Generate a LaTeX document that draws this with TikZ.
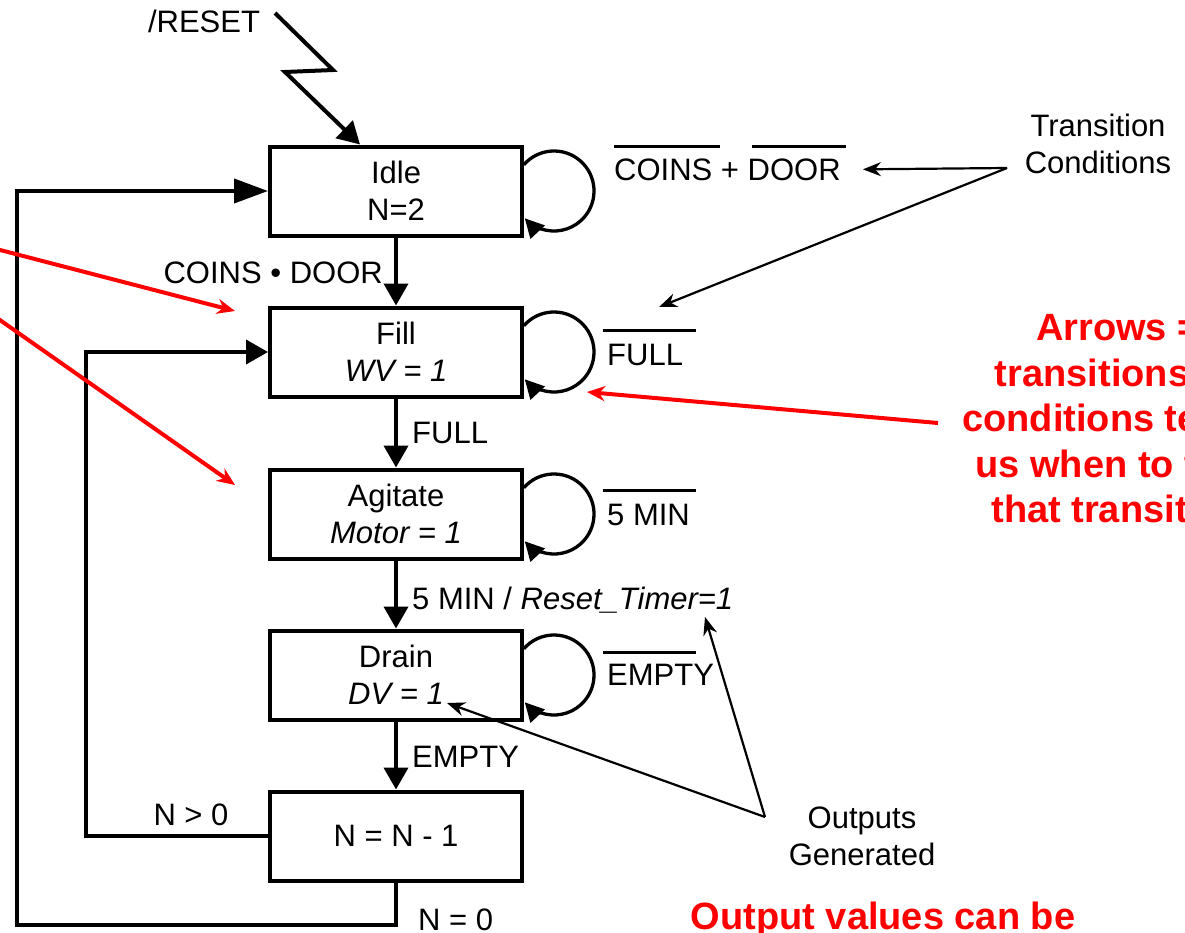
\documentclass[tikz,border=0pt]{standalone}
\usepackage{fontspec}
\setmainfont{Liberation Sans}
\usetikzlibrary{arrows.meta,calc}

\begin{document}
\begin{tikzpicture}[x=1pt,y=-1pt,
  every node/.style={font=\fontsize{31}{37}\selectfont},
  state/.style={draw,line width=4pt,minimum width=252pt,minimum height=89pt,align=center,inner sep=0pt},
  flow/.style={line width=4pt,-{Triangle[length=22pt,width=24pt]}},
  selfloop/.style={line width=3.3pt,-{Triangle[length=19pt,width=19pt]}},
  lbl/.style={inner sep=0pt},
  bar/.style={line width=3pt},
  note/.style={line width=2.2pt,-{Stealth[length=18pt,width=14pt]}},
  rednote/.style={red,line width=4pt,-{Stealth[length=18pt,width=15pt]}},
  redtext/.style={red,inner sep=0pt,align=center,font=\bfseries\fontsize{38}{45.5}\selectfont}]
  \useasboundingbox (0,0) rectangle (1185,932);
  \clip (0,0) rectangle (1185,932);

  % states
  \node[state] (idle) at (396,191) {Idle\\N=2};
  \node[state] (fill) at (396,352) {Fill\\\textit{WV = 1}};
  \node[state] (agit) at (396,514) {Agitate\\\textit{Motor = 1}};
  \node[state] (drain) at (396,675) {Drain\\\textit{DV = 1}};
  \node[state] (count) at (396,836) {N = N - 1};

  % transitions
  \foreach \a/\b in {idle/fill,fill/agit,agit/drain,drain/count}
    \draw[flow] (\a) -- (\b);
  \foreach \s in {idle,fill,agit,drain}
    \draw[selfloop] ($(\s.east)+(30,0)$) ++(-139:40) arc[start angle=-139,end angle=137,radius=40];
  \draw[line width=4pt,-{Triangle[length=34pt,width=24pt]}] (count.south) |- (17,925) |- (idle.west);
  \draw[flow] (count.west) -| (86,352) -- (fill.west);

  % reset
  \node[lbl,anchor=base] (reset) at (204,32) {/RESET};
  \coordinate (rst) at (275,13);
  \draw[flow] (rst) -- (333,70) -- (285,72) -- ($(idle.north)+(-36,0)$);

  % conditions on the arrows
  \node[lbl,anchor=base east] (cdand) at (383,283) {COINS • DOOR};
  \node[lbl,anchor=base west] (full) at (412,443) {FULL};
  \node[lbl,anchor=base west] (min5) at (412,609) {5 MIN / \textit{Reset\_Timer=1}};
  \node[lbl,anchor=base west] (empty) at (412,767) {EMPTY};
  \node[lbl,anchor=base] (ngt) at (191,825) {N > 0};
  \node[lbl,anchor=base west] (neq) at (418,930) {N = 0};

  % conditions on the self loops
  \node[lbl,anchor=base west] (idlec) at (614,180) {COINS + DOOR};
  \node[lbl,anchor=base west] (fillc) at (607,365) {FULL};
  \node[lbl,anchor=base west] (agitc) at (607,525) {5 MIN};
  \node[lbl,anchor=base west] (drainc) at (607,685) {EMPTY};
  \draw[bar] (614,146) -- (720,146) (752,146) -- (846,146);
  \foreach \y in {330,490,652}
    \draw[bar] (603,\y) -- (696,\y);

  % notes
  \node[lbl,align=center,anchor=base] (trans) at (1098,173) {Transition\\Conditions};
  \coordinate (tc) at (1007,168);
  \draw[note] (tc) -- ($(idlec.east)+(22,0)$);
  \coordinate (tcfull) at (659,307);
  \draw[note] (tc) -- (tcfull);

  \node[lbl,align=center,anchor=base] (outgen) at (862,865) {Outputs\\Generated};
  \coordinate (og) at (765,817);
  \coordinate (ogdv) at (447,703);
  \coordinate (ogrt) at (705,617);
  \draw[note] (og) -- (ogdv);
  \draw[note] (og) -- (ogrt);

  % red remarks
  \coordinate (ln1) at (-40,239.6);
  \coordinate (ln2) at (-40,292);
  \draw[rednote] (ln1) -- (235,311);
  \draw[rednote] (ln2) -- (235,485);
  \node[redtext] (arrowsnote) at (1118,419) {Arrows =\\transitions\rule{52pt}{0pt}\\conditions tell\rule{54pt}{0pt}\\us when to take\\that transition};
  \coordinate (rn) at (938,423);
  \draw[rednote] (rn) -- (587,392);
  \node[redtext,anchor=base] (outnote) at (883,929) {Output values can be};
\end{tikzpicture}
\end{document}
